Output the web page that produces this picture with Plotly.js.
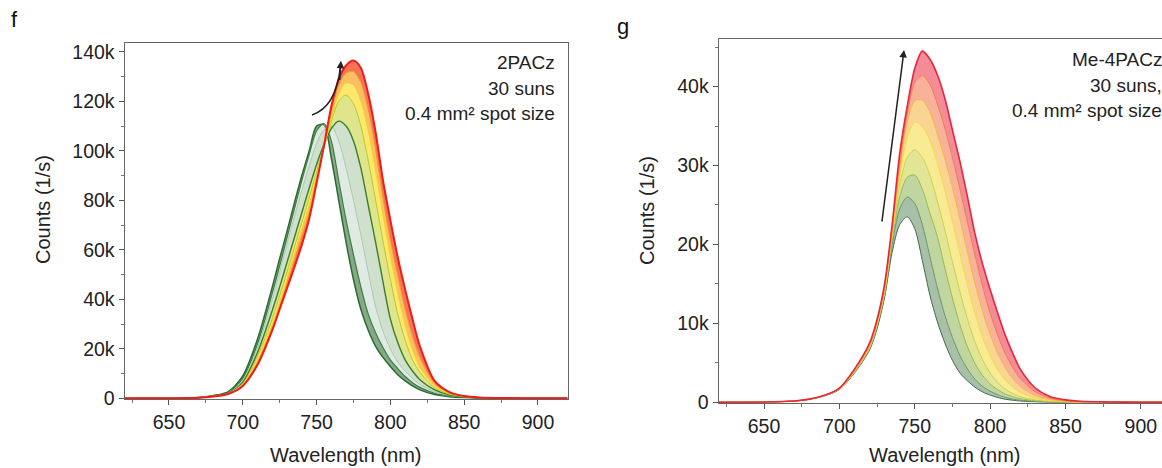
<!DOCTYPE html>
<html><head><meta charset="utf-8">
<script src="https://cdn.plot.ly/plotly-3.0.1.min.js"></script>
<style>html,body{margin:0;padding:0;overflow:hidden;background:#fff}#chart{width:1180px;height:468px}</style>
</head><body><div id="chart"></div>
<script>
// shared wavelength grid (nm)
const wavelength = [620,650,670,680,690,700,710,720,725,730,735,740,745,750,755,760,765,770,775,780,785,790,795,800,805,810,815,820,830,840,850,860,880,900,920];

// panel f: 2PACz, spectra in time order (green -> red)
const f_t1 = [0,50,300,1100,2600,9000,24000,45000,56500,67500,79000,90000,100000,110000,110500,97000,80000,63000,48000,36000,27500,21000,16500,12800,9500,7000,5000,3400,1500,650,300,120,30,0,0];
const f_t2 = [0,50,280,1000,2300,8000,22000,42500,53500,65000,76500,88000,98500,108000,111000,104000,88000,72000,58000,45000,34000,26500,20500,15500,12000,8800,6300,4400,2000,900,400,160,40,0,0];
const f_t3 = [0,40,250,900,2100,7200,20500,40000,51000,62500,73500,84000,94000,103000,108500,110000,104000,93000,80000,66000,51000,37000,27000,20000,14500,11000,8000,5600,2600,1100,500,200,50,0,0];
const f_t4 = [0,40,230,850,2000,6500,18500,35500,45000,55000,65000,75000,85000,94500,102500,109000,112000,110000,104000,93000,78000,63000,47000,32000,22500,15500,11000,7500,3400,1400,600,250,60,0,0];
const f_t5 = [0,35,210,780,1850,6000,17000,32000,41500,51000,61000,71000,81000,91500,102000,112000,120000,122500,119000,110000,96000,80000,63500,48000,34000,23500,15500,10500,4200,1700,700,280,70,0,0];
const f_t6 = [0,32,200,750,1780,5600,15500,30000,39000,48500,58500,68500,78000,90000,101000,113000,123000,127500,126500,120000,108000,92000,74000,57500,42500,29500,19500,12500,5000,1900,750,300,70,0,0];
const f_t7 = [0,30,200,720,1720,5300,14500,28500,37000,46500,56000,65500,75000,88500,101500,116000,126500,131500,132000,127500,116500,100500,81000,64000,49500,36000,25000,16500,6000,2200,820,320,75,0,0];
const f_t8 = [0,30,200,700,1700,5000,13500,27500,36000,44500,53000,62000,72500,87000,102000,118000,129000,134500,136500,133500,123000,107500,88000,72000,57000,44000,32000,21000,7000,2500,900,350,80,0,0];

// panel g: Me-4PACz
const g_t1 = [0,30,140,360,800,1600,3700,6600,9300,13300,19000,22500,23500,22000,18000,13600,10200,7500,5300,3700,2700,1900,1300,900,600,380,250,150,60,20,0,0,0,0,0];
const g_t2 = [0,30,145,370,820,1650,3800,6800,9600,13600,20000,24500,26000,25200,22500,18500,14500,11000,8200,5900,4200,2900,2000,1400,950,620,400,260,100,40,10,0,0,0,0];
const g_t3 = [0,30,145,370,820,1650,3800,6800,9700,13800,20500,26000,28500,28800,27000,24000,21000,17000,13200,9800,7000,4900,3400,2300,1600,1050,700,450,180,70,25,0,0,0,0];
const g_t4 = [0,30,150,375,830,1700,3850,6900,9800,14000,21000,27500,31000,32000,31000,28800,25500,21800,17800,14000,10500,7600,5400,3700,2500,1650,1100,700,280,110,40,10,0,0,0];
const g_t5 = [0,30,150,375,840,1700,3900,7000,9900,14200,21300,28500,33500,35500,35000,33200,30300,26800,22800,18800,14800,11200,8200,5900,4100,2800,1900,1250,500,190,70,25,0,0,0];
const g_t6 = [0,30,150,380,850,1750,3950,7100,10000,14400,21700,29500,35500,38200,38300,36800,34000,30800,27200,23200,19000,15000,11500,8600,6200,4400,3000,2000,850,330,120,45,10,0,0];
const g_t7 = [0,30,155,385,860,1750,4050,7250,10200,14700,22100,30300,36500,40500,41400,40300,37800,34700,31000,27000,22800,18600,14700,11300,8500,6200,4400,3000,1300,500,190,70,15,0,0];
const g_t8 = [0,30,160,390,880,1800,4200,7500,10500,15000,22500,31500,37500,42300,44500,43500,41500,38500,34500,30500,26000,21300,17500,14300,11300,8500,6200,4200,1800,700,300,120,30,0,0];

// ticks
const x_ticks = [650,700,750,800,850,900];
const f_y_ticks = [0,20000,40000,60000,80000,100000,120000,140000];
const f_y_labels = ['0','20k','40k','60k','80k','100k','120k','140k'];
const g_y_ticks = [0,10000,20000,30000,40000];
const g_y_labels = ['0','10k','20k','30k','40k'];

const f_series = [f_t1,f_t2,f_t3,f_t4,f_t5,f_t6,f_t7,f_t8];
const g_series = [g_t1,g_t2,g_t3,g_t4,g_t5,g_t6,g_t7,g_t8];

const f_lineColors = ['#2d6a33','#3f7d40','#9fbfa6','#3a7d2e','#b6c92c','#f6d226','#f59622','#ee1c1c'];
const f_lineWidths = [1.5,1.2,0.8,1.4,1,1,1,2];
const f_fillColors = ['','rgba(60,118,62,0.62)','rgba(185,210,190,0.45)','rgba(160,195,155,0.5)','rgba(200,212,60,0.6)','rgba(250,222,45,0.7)','rgba(248,162,35,0.7)','rgba(242,70,30,0.75)'];
const g_lineColors = ['#3f6a48','#6a9468','#99b955','#c8d24a','#f3da44','#f6b446','#f17a50','#e8263c'];
const g_lineWidths = [1,1,1,1,1,1,1,1.6];
const g_fillColors = ['','rgba(110,150,110,0.6)','rgba(150,185,95,0.6)','rgba(205,212,80,0.6)','rgba(245,222,80,0.62)','rgba(247,185,80,0.62)','rgba(242,130,90,0.62)','rgba(236,70,85,0.62)'];

const FONT = '"Liberation Sans", Arial, sans-serif';
const W = 1180, H = 468;
const px = v => v / W, py = v => 1 - v / H;

const traces = [];
f_series.forEach((s, i) => traces.push({
  x: wavelength, y: s, type: 'scatter', mode: 'lines', xaxis: 'x', yaxis: 'y',
  line: {color: f_lineColors[i], width: f_lineWidths[i], shape: 'spline', smoothing: 0.8},
  fill: i === 0 ? 'none' : 'tonexty', fillcolor: f_fillColors[i] || undefined,
  showlegend: false, hoverinfo: 'skip'
}));
g_series.forEach((s, i) => traces.push({
  x: wavelength, y: s, type: 'scatter', mode: 'lines', xaxis: 'x2', yaxis: 'y2',
  line: {color: g_lineColors[i], width: g_lineWidths[i], shape: 'spline', smoothing: 0.8},
  fill: i === 0 ? 'none' : 'tonexty', fillcolor: g_fillColors[i] || undefined,
  showlegend: false, hoverinfo: 'skip'
}));

function xAxis(domain, anchor) {
  return {
    domain: domain, anchor: anchor, range: [620, 920], tickmode: 'array', tickvals: x_ticks,
    ticks: 'outside', ticklen: 5, tickwidth: 1, tickcolor: '#555',
    showline: true, linecolor: '#666', linewidth: 1.2, mirror: true,
    showgrid: false, zeroline: false,
    tickfont: {family: FONT, size: 19.5, color: '#222'},
    minor: {tickmode: 'linear', tick0: 0, dtick: 25, ticks: 'outside', ticklen: 3, tickcolor: '#777', showgrid: false}
  };
}
function yAxis(domain, anchor, range, vals, labels, minorStep) {
  return {
    domain: domain, anchor: anchor, range: range, tickmode: 'array', tickvals: vals, ticktext: labels,
    ticks: 'outside', ticklen: 5, tickwidth: 1, tickcolor: '#555',
    showline: true, linecolor: '#666', linewidth: 1.2, mirror: true,
    showgrid: false, zeroline: false,
    tickfont: {family: FONT, size: 19.5, color: '#222'},
    minor: {tickmode: 'linear', tick0: 0, dtick: minorStep, ticks: 'outside', ticklen: 3, tickcolor: '#777', showgrid: false}
  };
}

const txt = (x, y, text, opts) => Object.assign({
  xref: 'paper', yref: 'paper', x: px(x), y: py(y), text: text, showarrow: false,
  xanchor: 'center', yanchor: 'middle',
  font: {family: FONT, size: 19, color: '#222'}
}, opts || {});

const annotations = [
  txt(14, 20, 'f', {font: {family: FONT, size: 22, color: '#111'}}),
  txt(623, 26, 'g', {font: {family: FONT, size: 22, color: '#111'}}),
  txt(43, 210, 'Counts (1/s)', {textangle: -90, font: {family: FONT, size: 20, color: '#222'}}),
  txt(647, 211, 'Counts (1/s)', {textangle: -90, font: {family: FONT, size: 20, color: '#222'}}),
  txt(346, 455, 'Wavelength (nm)', {font: {family: FONT, size: 20, color: '#222'}}),
  txt(945, 455, 'Wavelength (nm)', {font: {family: FONT, size: 20, color: '#222'}}),
  txt(557, 63, '2PACz', {xanchor: 'right'}),
  txt(557, 88, '30 suns', {xanchor: 'right'}),
  txt(557, 113, '0.4 mm² spot size', {xanchor: 'right'}),
  txt(1164, 59, 'Me-4PACz', {xanchor: 'right'}),
  txt(1164, 85, '30 suns,', {xanchor: 'right'}),
  txt(1164, 110, '0.4 mm² spot size', {xanchor: 'right'}),
  // arrowheads
  {xref: 'x', yref: 'y', x: 766.5, y: 136400, axref: 'x', ayref: 'y', ax: 765.6, ay: 128000,
   showarrow: true, arrowhead: 2, arrowsize: 1, arrowwidth: 1.5, arrowcolor: '#222', text: ''},
  {xref: 'x2', yref: 'y2', x: 742.9, y: 44650, axref: 'x2', ayref: 'y2', ax: 728.1, ay: 22700,
   showarrow: true, arrowhead: 2, arrowsize: 1, arrowwidth: 1.5, arrowcolor: '#222', text: ''}
];

const shapes = [
  {type: 'path', xref: 'x', yref: 'y', path: 'M 746.9,114500 Q 763,117500 766.2,134000',
   line: {color: '#222', width: 1.5}}
];

const layout = {
  width: W, height: H, margin: {l: 0, r: 0, t: 0, b: 0},
  paper_bgcolor: '#fff', plot_bgcolor: '#fff',
  xaxis: xAxis([px(124.7), px(567.5)], 'y'),
  yaxis: yAxis([1 - 399 / H, 1 - 42.7 / H], 'x', [-300, 143700], f_y_ticks, f_y_labels, 10000),
  xaxis2: xAxis([px(718.8), px(1171)], 'y2'),
  yaxis2: yAxis([1 - 403 / H, 1 - 39.3 / H], 'x2', [-100, 46000], g_y_ticks, g_y_labels, 5000),
  annotations: annotations, shapes: shapes, showlegend: false
};

Plotly.newPlot('chart', traces, layout, {staticPlot: true, displayModeBar: false});
</script></body></html>
